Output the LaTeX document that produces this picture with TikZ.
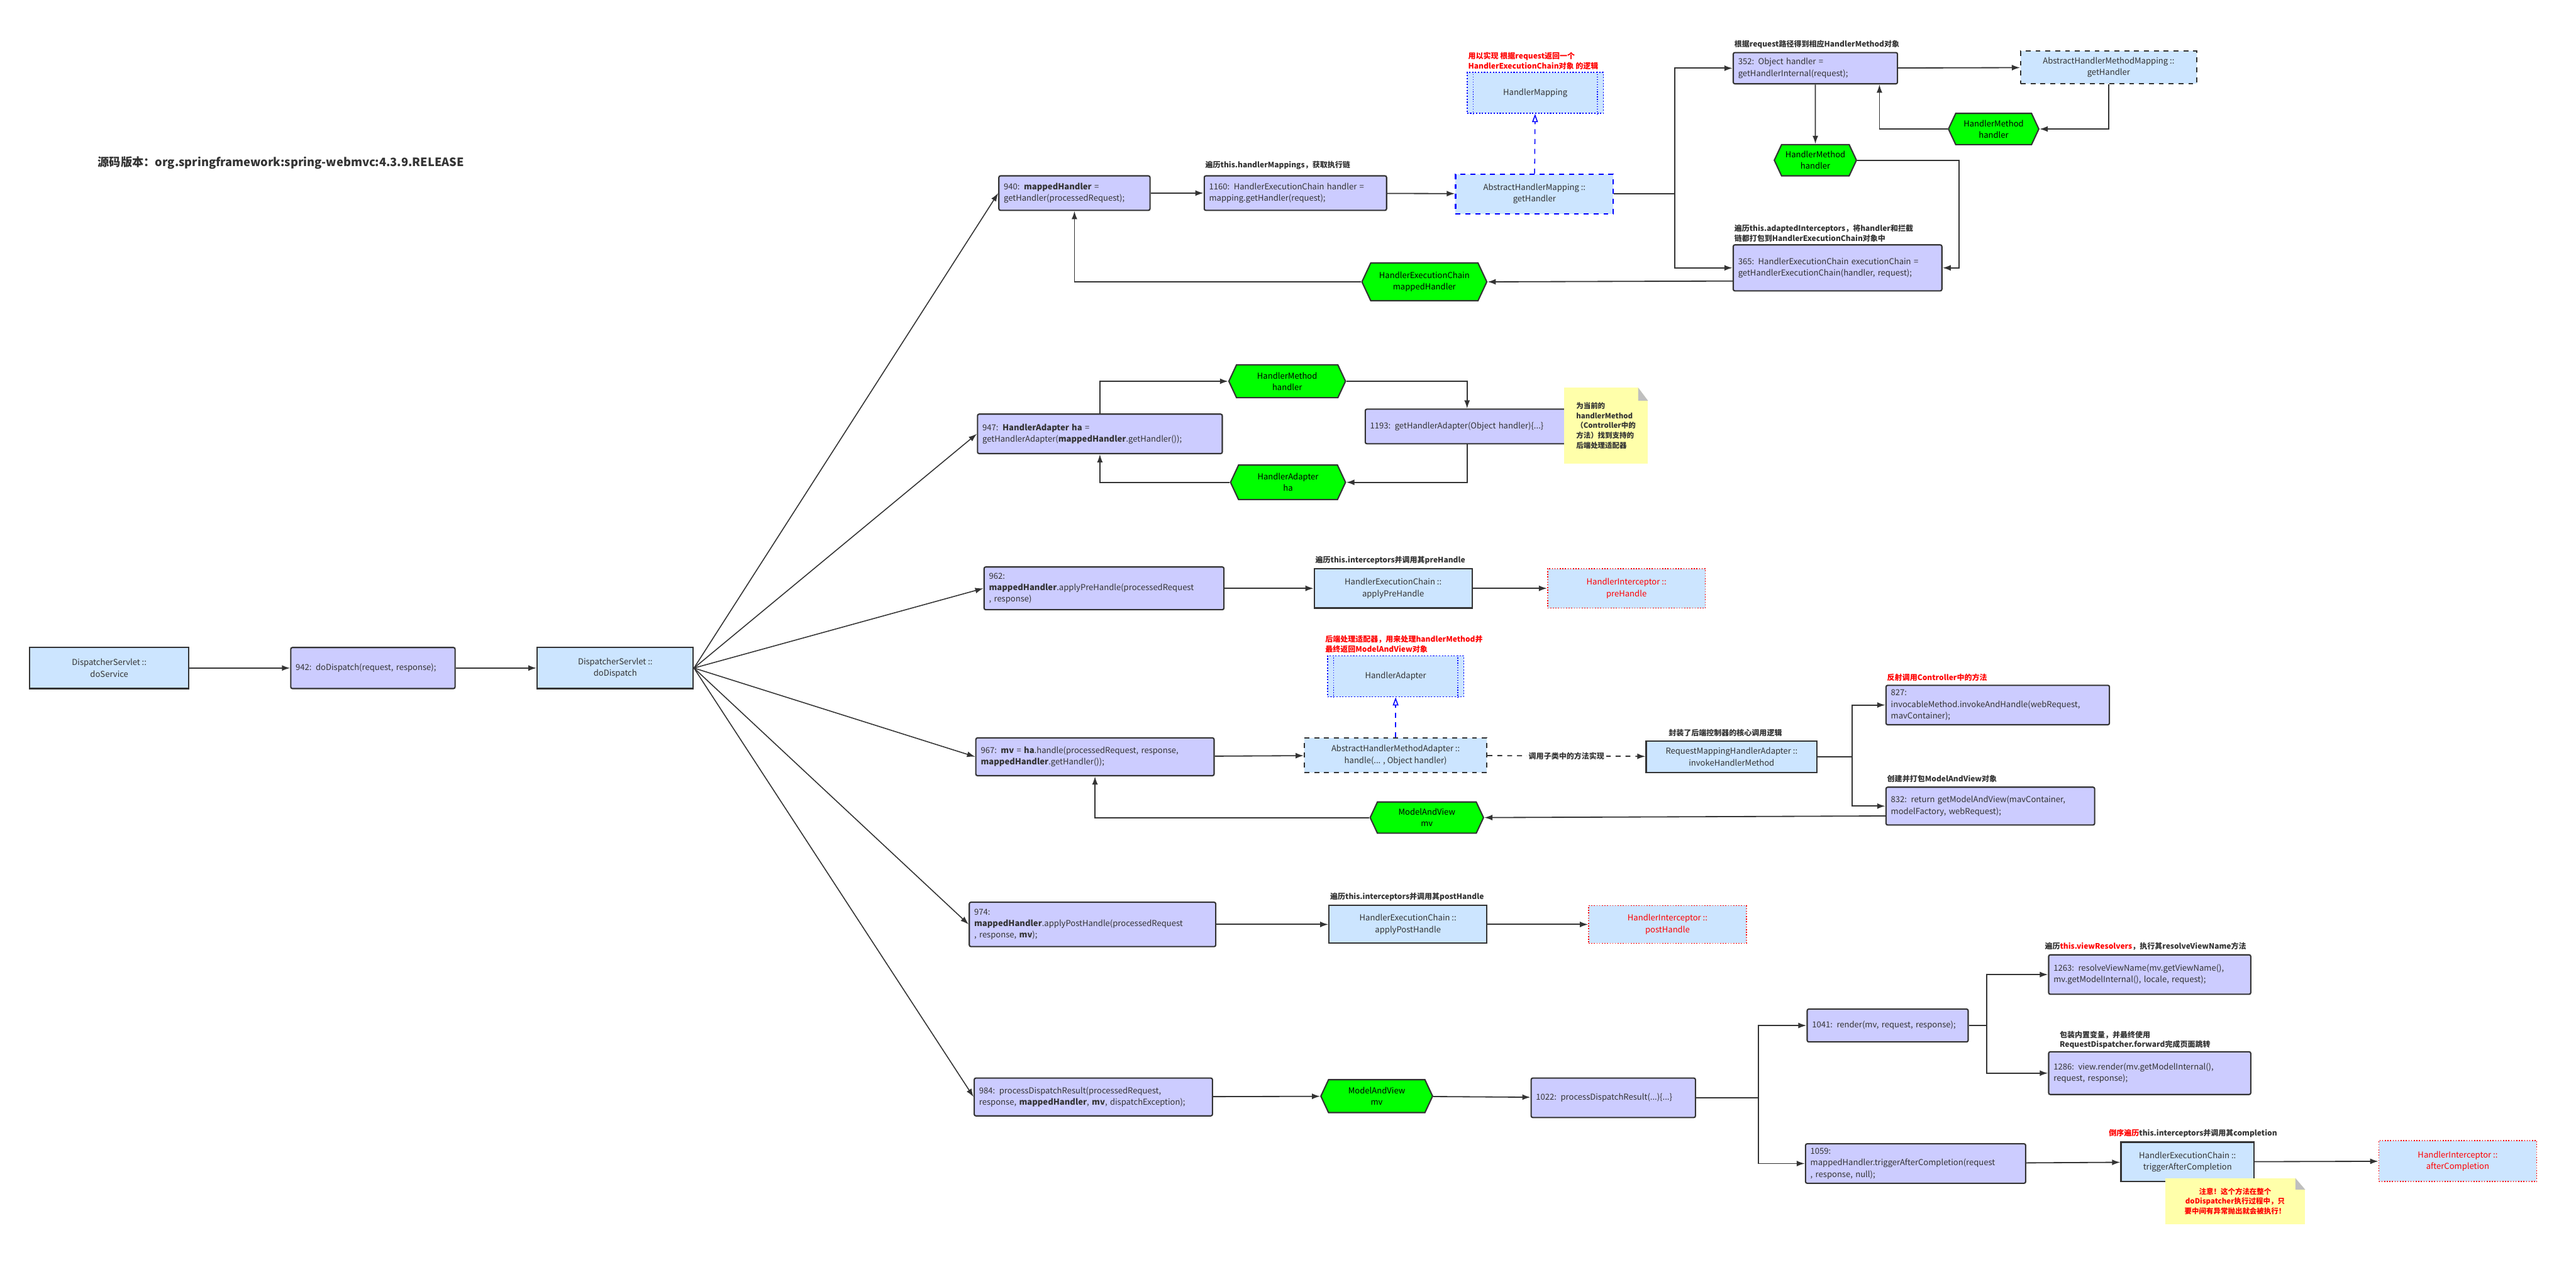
\documentclass[tikz,border=0pt]{standalone}
\usepackage{fontspec}
\setmainfont{Noto Sans CJK SC}
\usetikzlibrary{arrows.meta,shapes.symbols,calc}
\definecolor{pur}{HTML}{CCCCFF}
\definecolor{lb}{HTML}{CCE5FF}
\definecolor{gr}{HTML}{00FF00}
\definecolor{ln}{HTML}{333333}
\definecolor{nt}{HTML}{FFFFAA}
\definecolor{bl}{HTML}{0000FF}
\definecolor{rd}{HTML}{FF0000}
\begin{document}
\begin{tikzpicture}[x=1pt,y=-1pt,
  every node/.style={font=\fontsize{5}{7}\selectfont, text=ln},
  pbox/.style 2 args={draw=ln, fill=pur, line width=0.8pt, rounded corners=1pt, text width=#1pt, minimum height=#2pt, inner xsep=3pt, inner ysep=1pt, align=left},
  lbox/.style 2 args={draw=ln, fill=lb, line width=0.8pt, minimum width=#1pt, minimum height=#2pt, inner sep=1pt, align=center},
  ibox/.style 2 args={draw=rd, densely dotted, fill=lb, line width=0.6pt, minimum width=#1pt, minimum height=#2pt, inner sep=1pt, align=center, text=rd},
  hx/.style 2 args={shape=signal, signal to=east and west, signal pointer angle=130, draw=ln, fill=gr, line width=0.8pt, minimum width=#1pt, minimum height=#2pt, inner sep=0pt, align=center, text=black},
  lab/.style={anchor=south west, font=\fontsize{4.6}{6}\selectfont\bfseries, align=left, inner sep=0.5pt},
  rlab/.style={lab, text=rd},
  note/.style 2 args={fill=nt, minimum width=#1pt, minimum height=#2pt, inner sep=1pt, font=\fontsize{4.4}{6}\selectfont\bfseries},
  ar/.style={draw=ln, line width=0.7pt, -{Latex[length=5pt,width=3.5pt]}},
  fan/.style={draw=ln, line width=0.6pt, -{Latex[length=5pt,width=3.5pt]}},
  impl/.style={draw=bl, line width=0.6pt, dashed, -{Triangle[open,length=5pt,width=3.5pt]}},
]
\useasboundingbox (0,0) rectangle (1568,767.6);

\node[anchor=west, font=\fontsize{7}{8}\selectfont\bfseries] (title) at (56,99) {源码版本：org.springframework:spring-webmvc:4.3.9.RELEASE};

% left chain
\node[lbox={97}{25}] (dss) at (66.5,406.5) {DispatcherServlet ::\\doService};
\node[pbox={94}{25}] (n942) at (227,406.5) {942: doDispatch(request, response);};
\node[lbox={95}{25}] (dsd) at (374.5,406.5) {DispatcherServlet ::\\doDispatch};
\draw[ar] (dss) -- (n942);
\draw[ar] (n942) -- (dsd);

% row 1
\node[pbox={86}{21}] (n940) at (654,117.5) {940: \textbf{mappedHandler} =\\getHandler(processedRequest);};
\node[pbox={105}{21}] (n1160) at (788.5,117.5) {1160: HandlerExecutionChain handler =\\mapping.getHandler(request);};
\node[lab] (l1160) at (733,104) {遍历this.handlerMappings，获取执行链};
\node[lbox={96}{24}, draw=bl, dashed] (ahm) at (934,118) {AbstractHandlerMapping ::\\getHandler};
\node[lbox={83}{25}, draw=bl, densely dotted, line width=0.6pt] (hm) at (934.5,56.5) {HandlerMapping};
\draw[bl, densely dotted, line width=0.5pt] ([xshift=4pt]hm.north west) -- ([xshift=4pt]hm.south west) ([xshift=-4pt]hm.north east) -- ([xshift=-4pt]hm.south east);
\node[rlab] (lhm) at (893,43) {用以实现 根据request返回一个\\HandlerExecutionChain对象 的逻辑};
\node[pbox={94}{19}] (n352) at (1105,41.5) {352: Object handler =\\getHandlerInternal(request);};
\node[lab] (l352) at (1055,30) {根据request路径得到相应HandlerMethod对象};
\node[lbox={107}{20}, dashed] (ahmm) at (1283.5,41) {AbstractHandlerMethodMapping ::\\getHandler};
\node[hx={55}{19}] (hmr) at (1213.5,78.5) {HandlerMethod\\handler};
\node[hx={50}{19}] (hml) at (1105,97.5) {HandlerMethod\\handler};
\node[pbox={121}{28}] (n365) at (1118.5,163) {365: HandlerExecutionChain executionChain =\\getHandlerExecutionChain(handler, request);};
\node[lab] (l365) at (1055,148) {遍历this.adaptedInterceptors，将handler和拦截\\链都打包到HandlerExecutionChain对象中};
\node[hx={76}{23}] (hec) at (867,171.5) {HandlerExecutionChain\\mappedHandler};

\draw[ar] (n940) -- (n1160);
\draw[ar] (n1160) -- (ahm);
\draw[impl] (ahm) -- (hm);
\draw[ar] (ahm.east) -- ++(37,0) |- (n352.west);
\draw[ar] (ahm.east) -- ++(37,0) |- (n365.west);
\draw[ar] (n352) -- (ahmm);
\draw[ar] (n352) -- (hml);
\draw[ar] (ahmm.south) |- (hmr.east);
\draw[ar] (hmr.west) -| ([xshift=39pt]n352.south);
\draw[ar] (hml.east) -| ([xshift=10pt]n365.east) -- (n365.east);
\draw[ar] ([yshift=-8pt]n365.west) -- (hec.east);
\draw[ar] (hec.west) -| (n940.south);

% row 2
\node[pbox={143}{24}] (n947) at (669.5,264) {947: \textbf{HandlerAdapter ha} =\\getHandlerAdapter(\textbf{mappedHandler}.getHandler());};
\node[hx={71}{20}] (hmm) at (783.5,232) {HandlerMethod\\handler};
\node[pbox={118}{21}] (n1193) at (893,259.5) {1193: getHandlerAdapter(Object handler)\{...\}};
\node[note={51}{46}, align=left] (note1) at (977.5,259) {为当前的\\handlerMethod\\（Controller中的\\方法）找到支持的\\后端处理适配器};
\fill[black!25] ([xshift=-6pt]note1.north east) -- ([yshift=-8pt]note1.north east) -- ([xshift=-6pt,yshift=-8pt]note1.north east) -- cycle;
\fill[white] ([xshift=-6pt]note1.north east) -- (note1.north east) -- ([yshift=-8pt]note1.north east) -- cycle;
\node[hx={70}{21}] (ha) at (784,293.5) {HandlerAdapter\\ha};
\draw[ar] (n947.north) |- (hmm.west);
\draw[ar] (hmm.east) -| (n1193.north);
\draw[ar] (n1193.south) |- (ha.east);
\draw[ar] (ha.west) -| (n947.south);

% row 3
\node[pbox={140}{26}] (n962) at (672,358) {962:\\\textbf{mappedHandler}.applyPreHandle(processedRequest\\, response)};
\node[lbox={96}{24}] (pre) at (848,358) {HandlerExecutionChain ::\\applyPreHandle};
\node[lab] (lpre) at (800,344) {遍历this.interceptors并调用其preHandle};
\node[ibox={96}{24}] (hipre) at (990,358) {HandlerInterceptor ::\\preHandle};
\draw[ar] (n962) -- (pre);
\draw[ar] (pre) -- (hipre);

% row 4
\node[lbox={83}{25}, draw=bl, densely dotted, line width=0.6pt] (hadp) at (849.5,411.5) {HandlerAdapter};
\draw[bl, densely dotted, line width=0.5pt] ([xshift=4pt]hadp.north west) -- ([xshift=4pt]hadp.south west) ([xshift=-4pt]hadp.north east) -- ([xshift=-4pt]hadp.south east);
\node[rlab] (lhadp) at (806,398) {后端处理适配器，用来处理handlerMethod并\\最终返回ModelAndView对象};
\node[pbox={139}{23}] (n967) at (666.5,460.5) {967: \textbf{mv} = \textbf{ha}.handle(processedRequest, response,\\\textbf{mappedHandler}.getHandler());};
\node[lbox={111}{21}, dashed] (ahma) at (849.5,459.5) {AbstractHandlerMethodAdapter ::\\handle(... , Object handler)};
\node[lbox={104}{19}] (rmha) at (1054,460.5) {RequestMappingHandlerAdapter ::\\invokeHandlerMethod};
\node[lab] (lrmha) at (1015,449) {封装了后端控制器的核心调用逻辑};
\node[pbox={130}{24}] (n827) at (1216,429) {827:\\invocableMethod.invokeAndHandle(webRequest,\\mavContainer);};
\node[rlab] (l827) at (1148,415) {反射调用Controller中的方法};
\node[pbox={121}{23}] (n832) at (1211.5,490.5) {832: return getModelAndView(mavContainer,\\modelFactory, webRequest);};
\node[lab] (l832) at (1148,477) {创建并打包ModelAndView对象};
\node[hx={69}{19}] (mv) at (868.5,497.5) {ModelAndView\\mv};
\draw[ar] (n967) -- (ahma);
\draw[impl] (ahma) -- (hadp);
\draw[ar, dashed] (ahma) -- node[fill=white, inner sep=1pt, font=\fontsize{4.6}{6}\selectfont\bfseries] {调用子类中的方法实现} (rmha);
\draw[ar] (rmha.east) -- ++(21,0) |- (n827.west);
\draw[ar] (rmha.east) -- ++(21,0) |- (n832.west);
\draw[ar] ([yshift=-6pt]n832.west) -- (mv.east);
\draw[ar] (mv.west) -| (n967.south);

% row 5
\node[pbox={144}{27}] (n974) at (665,562.5) {974:\\\textbf{mappedHandler}.applyPostHandle(processedRequest\\, response, \textbf{mv});};
\node[lbox={96}{23}] (post) at (857,562.5) {HandlerExecutionChain ::\\applyPostHandle};
\node[lab] (lpost) at (809,549) {遍历this.interceptors并调用其postHandle};
\node[ibox={96}{23}] (hipost) at (1015,562.5) {HandlerInterceptor ::\\postHandle};
\draw[ar] (n974) -- (post);
\draw[ar] (post) -- (hipost);

% row 6
\node[pbox={139}{23}] (n984) at (665.5,667.5) {984: processDispatchResult(processedRequest,\\response, \textbf{mappedHandler}, \textbf{mv}, dispatchException);};
\node[hx={68}{20}] (mv2) at (838,667) {ModelAndView\\mv};
\node[pbox={94}{24}] (n1022) at (982,668) {1022: processDispatchResult(...)\{...\}};
\node[pbox={92}{20}] (n1041) at (1149,624) {1041: render(mv, request, response);};
\node[pbox={117}{24}] (n1263) at (1308.5,593) {1263: resolveViewName(mv.getViewName(),\\mv.getModelInternal(), locale, request);};
\node[lab] (l1263) at (1244,579) {遍历\textcolor{rd}{this.viewResolvers}，执行其resolveViewName方法};
\node[pbox={117}{26}] (n1286) at (1308.5,653) {1286: view.render(mv.getModelInternal(),\\request, response);};
\node[lab] (l1286) at (1253,639) {包装内置变量，并最终使用\\RequestDispatcher.forward完成页面跳转};
\node[pbox={128}{24}] (n1059) at (1166,708) {1059:\\mappedHandler.triggerAfterCompletion(request\\, response, null);};
\node[lbox={81}{24}] (tac) at (1331.5,707) {HandlerExecutionChain ::\\triggerAfterCompletion};
\node[lab] (ltac) at (1283,693) {\textcolor{rd}{倒序遍历}this.interceptors并调用其completion};
\node[ibox={96}{25}] (hiac) at (1496,706.5) {HandlerInterceptor ::\\afterCompletion};
\node[note={85}{28}, align=center, text=rd] (note2) at (1360.5,731) {注意！这个方法在整个\\doDispatcher执行过程中，只\\要中间有异常抛出就会被执行！};
\fill[black!25] ([xshift=-6pt]note2.north east) -- ([yshift=-7pt]note2.north east) -- ([xshift=-6pt,yshift=-7pt]note2.north east) -- cycle;
\fill[white] ([xshift=-6pt]note2.north east) -- (note2.north east) -- ([yshift=-7pt]note2.north east) -- cycle;
\draw[ar] (n984) -- (mv2);
\draw[ar] (mv2) -- (n1022);
\draw[ar] (n1022.east) -- ++(38,0) |- (n1041.west);
\draw[ar] (n1022.east) -- ++(38,0) |- (n1059.west);
\draw[ar] (n1041.east) -- ++(11,0) |- (n1263.west);
\draw[ar] (n1041.east) -- ++(11,0) |- (n1286.west);
\draw[ar] (n1059) -- (tac);
\draw[ar] (tac) -- (hiac);

% fan
\foreach \t in {n940,n947,n962,n967,n974,n984} \draw[fan] (dsd.east) -- (\t.west);
\end{tikzpicture}
\end{document}
